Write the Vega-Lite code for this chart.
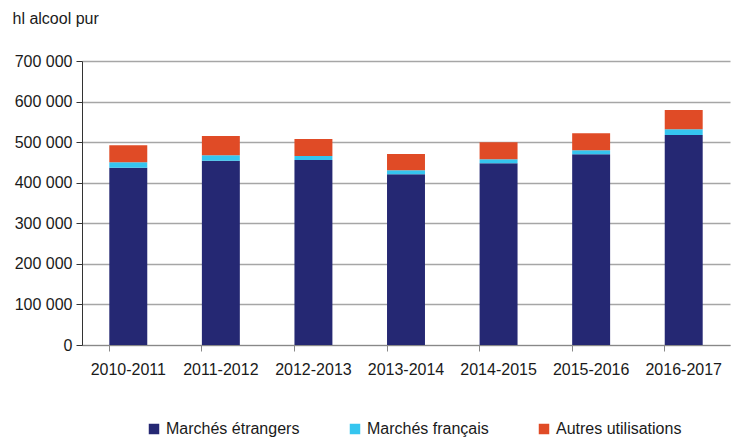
{
  "$schema": "https://vega.github.io/schema/vega-lite/v6.json",
  "width": 648,
  "height": 284,
  "autosize": {"type": "none"},
  "padding": {"left": 82, "top": 61, "right": 2, "bottom": 92},
  "background": "white",
  "config": {
    "locale": {"number": {"decimal": ",", "thousands": " ", "grouping": [3], "currency": ["", " €"]}},
    "view": {"stroke": null},
    "font": "Liberation Sans"
  },
  "data": {
    "values": [
      {"annee": "2010-2011", "type": "Marchés étrangers", "ord": 1, "hl": 437000},
      {"annee": "2010-2011", "type": "Marchés français", "ord": 2, "hl": 13600},
      {"annee": "2010-2011", "type": "Autres utilisations", "ord": 3, "hl": 42000},
      {"annee": "2011-2012", "type": "Marchés étrangers", "ord": 1, "hl": 454000},
      {"annee": "2011-2012", "type": "Marchés français", "ord": 2, "hl": 14000},
      {"annee": "2011-2012", "type": "Autres utilisations", "ord": 3, "hl": 47000},
      {"annee": "2012-2013", "type": "Marchés étrangers", "ord": 1, "hl": 456000},
      {"annee": "2012-2013", "type": "Marchés français", "ord": 2, "hl": 10000},
      {"annee": "2012-2013", "type": "Autres utilisations", "ord": 3, "hl": 42000},
      {"annee": "2013-2014", "type": "Marchés étrangers", "ord": 1, "hl": 421000},
      {"annee": "2013-2014", "type": "Marchés français", "ord": 2, "hl": 10000},
      {"annee": "2013-2014", "type": "Autres utilisations", "ord": 3, "hl": 39500},
      {"annee": "2014-2015", "type": "Marchés étrangers", "ord": 1, "hl": 448000},
      {"annee": "2014-2015", "type": "Marchés français", "ord": 2, "hl": 10000},
      {"annee": "2014-2015", "type": "Autres utilisations", "ord": 3, "hl": 42000},
      {"annee": "2015-2016", "type": "Marchés étrangers", "ord": 1, "hl": 470000},
      {"annee": "2015-2016", "type": "Marchés français", "ord": 2, "hl": 10000},
      {"annee": "2015-2016", "type": "Autres utilisations", "ord": 3, "hl": 42000},
      {"annee": "2016-2017", "type": "Marchés étrangers", "ord": 1, "hl": 517500},
      {"annee": "2016-2017", "type": "Marchés français", "ord": 2, "hl": 14500},
      {"annee": "2016-2017", "type": "Autres utilisations", "ord": 3, "hl": 47000}
    ]
  },
  "mark": {"type": "bar"},
  "encoding": {
    "x": {
      "field": "annee", "type": "nominal", "sort": null,
      "scale": {"paddingInner": 0.59, "paddingOuter": 0.295},
      "axis": {
        "title": null, "labelAngle": 0, "labelFontSize": 16, "labelColor": "#1a1a1a",
        "labelPadding": 10, "domainColor": "#888888", "tickColor": "#888888", "tickSize": 6,
        "bandPosition": 0, "grid": false
      }
    },
    "y": {
      "field": "hl", "type": "quantitative", "stack": "zero",
      "scale": {"domain": [0, 700000]},
      "axis": {
        "title": "hl alcool pur", "titleAngle": 0, "titleAlign": "left", "titleBaseline": "middle",
        "titleX": -70, "titleY": -43, "titleFontSize": 16, "titleFontWeight": "normal", "titleColor": "#1a1a1a",
        "values": [0, 100000, 200000, 300000, 400000, 500000, 600000, 700000],
        "format": ",d", "labelFontSize": 16, "labelColor": "#1a1a1a", "labelPadding": 4,
        "tickSize": 6, "tickColor": "#333333", "domainColor": "#333333",
        "gridColor": "#a6a6a6", "gridWidth": 1.5
      }
    },
    "color": {
      "field": "type", "type": "nominal",
      "scale": {
        "domain": ["Marchés étrangers", "Marchés français", "Autres utilisations"],
        "range": ["#252873", "#35C5EF", "#E04B26"]
      },
      "legend": {
        "title": null, "orient": "none", "direction": "horizontal",
        "legendX": 64, "legendY": 360,
        "symbolType": "square", "symbolSize": 110, "symbolStrokeWidth": 0,
        "labelFontSize": 16, "labelColor": "#1a1a1a", "labelOffset": 4,
        "columnPadding": 47
      }
    },
    "order": {"field": "ord", "type": "quantitative"}
  }
}
